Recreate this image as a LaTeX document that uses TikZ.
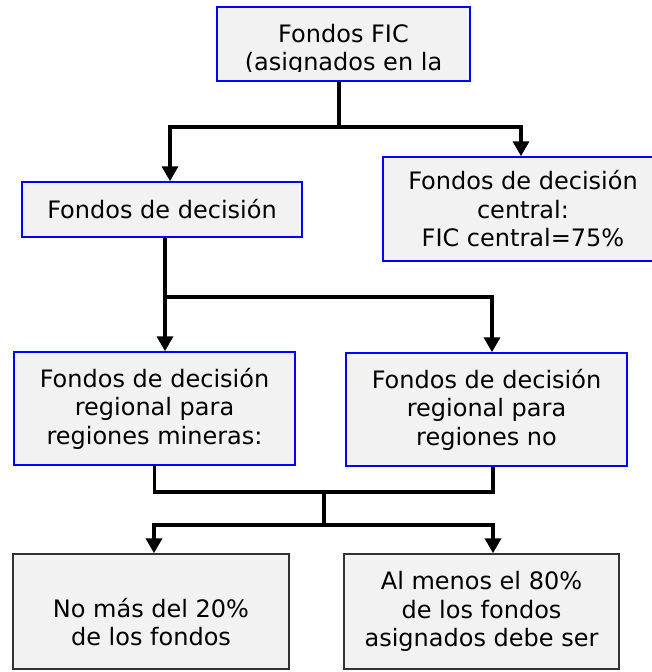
\documentclass[tikz,border=0pt]{standalone}
\usepackage{fontspec}
\newfontfamily\cajafont{DejaVu Sans}
\usetikzlibrary{arrows.meta}
\tikzset{
  letra/.style={font=\cajafont\fontsize{24}{28.5}\selectfont},
  caja/.style={draw=blue, line width=1.5pt, fill=black!5, align=center, inner sep=0pt, letra},
  cajagris/.style={caja, draw=black!80},
  texto/.style 2 args={path picture={
      \clip ([yshift=10pt]path picture bounding box.south west) rectangle (path picture bounding box.north east);
      \node[align=center, inner sep=0pt, letra] at ([yshift=#1]path picture bounding box.center) {#2};}},
  linea/.style={line width=3.5pt},
  ambas/.style={linea, {Triangle[width=16pt,length=15pt]}-{Triangle[width=16pt,length=15pt]}}
}
\begin{document}
\begin{tikzpicture}[x=1pt, y=-1pt]
  \useasboundingbox (0,0) rectangle (652,672);
  \node[caja, minimum width=253pt, minimum height=74pt,
    texto={-6pt}{Fondos FIC\\(asignados en la}] (fic) at (343.5,44) {};
  \node[caja, minimum width=280pt, minimum height=55pt] (dec) at (162,209.5) {Fondos de decisión};
  \node[caja, minimum width=280pt, minimum height=104pt] (cen) at (523,209)
    {Fondos de decisión\\central:\\FIC central=75\%};
  \node[caja, minimum width=281pt, minimum height=113pt] (min) at (154.5,408.5)
    {Fondos de decisión\\regional para\\regiones mineras:};
  \node[caja, minimum width=281pt, minimum height=113pt] (nomin) at (486.5,409.5)
    {Fondos de decisión\\regional para\\regiones no};
  \node[cajagris, minimum width=276pt, minimum height=115pt,
    texto={-10.5pt}{No más del 20\%\\de los fondos}] (menos) at (151,611.5) {};
  \node[cajagris, minimum width=275pt, minimum height=115pt] (mas) at (481.5,611.5)
    {Al menos el 80\%\\de los fondos\\asignados debe ser};
  \coordinate (j1) at (339,127);
  \coordinate (j2) at (165,297);
  \coordinate (j3) at (324,492);
  \coordinate (j4) at (324,525);
  \begin{scope}[linea]
    \draw (fic.south -| j1) -- (j1);
    \draw[ambas] ([xshift=8pt]dec.north) |- (j1) -| ([xshift=-2pt]cen.north);
    \draw (dec.south -| j2) -- (j2);
    \draw[ambas] (j2 |- min.north) -- (j2) -| ([xshift=5.5pt]nomin.north);
    \draw (min.south) |- (j3) -| ([xshift=6.5pt]nomin.south);
    \draw (j3) -- (j4);
    \draw[ambas] ([xshift=3pt]menos.north) |- (j4) -| ([xshift=11.5pt]mas.north);
  \end{scope}
\end{tikzpicture}
\end{document}
